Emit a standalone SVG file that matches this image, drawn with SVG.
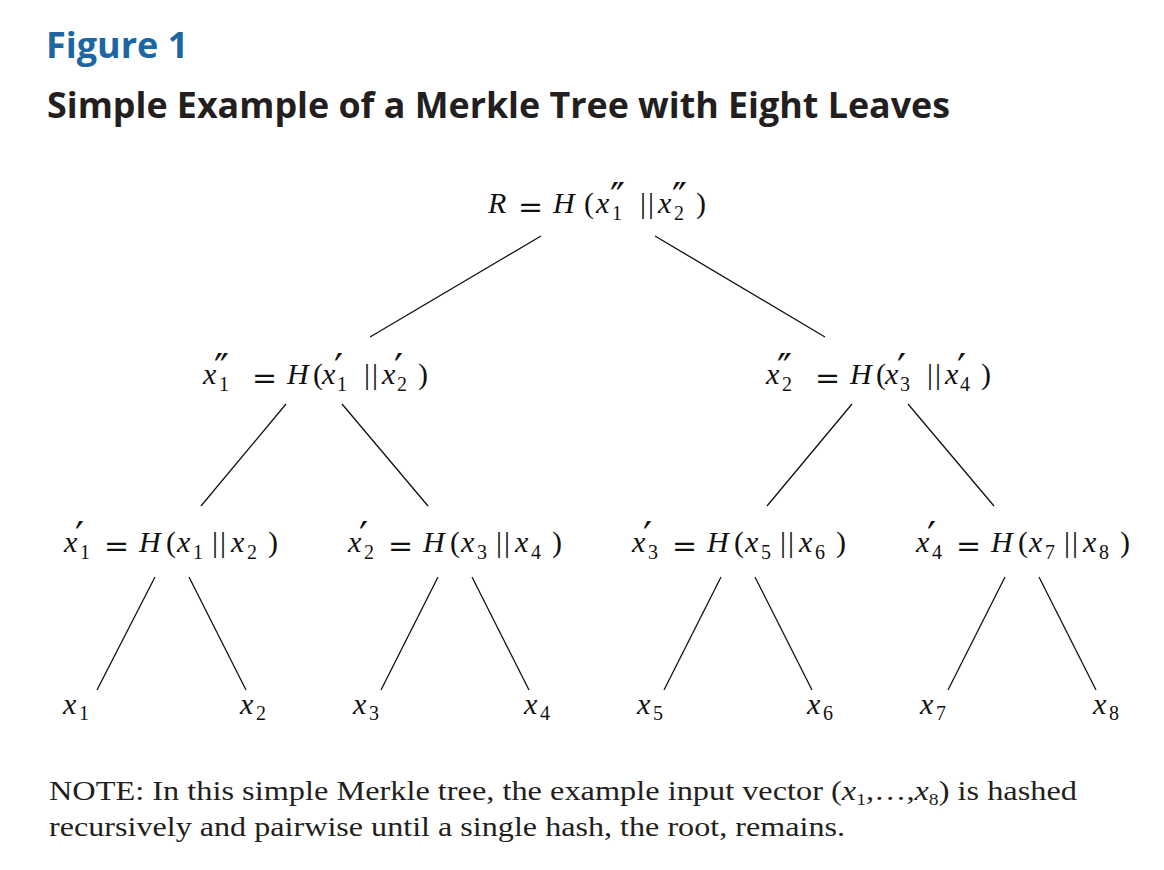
<svg xmlns="http://www.w3.org/2000/svg" width="1164" height="870" viewBox="0 0 1164 870">
<style>
.fig{font-family:"Open Sans","Noto Sans",sans-serif;font-weight:bold;font-size:36px;fill:#1b66a3}
.ttl{font-family:"Open Sans","Noto Sans",sans-serif;font-weight:bold;font-size:36px;fill:#231f20}
.note{font-family:"Liberation Serif",serif;font-size:28px;fill:#231f20}
.math{font-family:"Liberation Serif",serif;font-size:30px;fill:#111}
.i{font-style:italic}
.s{font-size:20px}
.p{font-family:"DejaVu Sans",sans-serif;font-size:40px}
.eq{font-family:"DejaVu Serif",serif;font-size:30px}
.edge{stroke:#111;stroke-width:1.3;fill:none}
</style>
<rect width="1164" height="870" fill="#fff"/>
<text class="fig" x="46" y="58">Figure 1</text>
<text class="ttl" x="47" y="118" textLength="903" lengthAdjust="spacingAndGlyphs">Simple Example of a Merkle Tree with Eight Leaves</text>

<g id="connectors">
<line class="edge" x1="541" y1="236" x2="370" y2="337"/>
<line class="edge" x1="655" y1="236" x2="825" y2="337"/>
<line class="edge" x1="286" y1="404" x2="201" y2="506"/>
<line class="edge" x1="342" y1="404" x2="428" y2="506"/>
<line class="edge" x1="852" y1="404" x2="767" y2="506"/>
<line class="edge" x1="908" y1="404" x2="994" y2="506"/>
<line class="edge" x1="155" y1="577" x2="97" y2="690"/>
<line class="edge" x1="189" y1="577" x2="246" y2="690"/>
<line class="edge" x1="438" y1="577" x2="381" y2="690"/>
<line class="edge" x1="472" y1="577" x2="529" y2="690"/>
<line class="edge" x1="721" y1="577" x2="664" y2="690"/>
<line class="edge" x1="755" y1="577" x2="812" y2="690"/>
<line class="edge" x1="1005" y1="577" x2="948" y2="690"/>
<line class="edge" x1="1039" y1="577" x2="1096" y2="690"/>
</g>

<g id="root">
<text class="math"><tspan class="i" x="488" y="213">R</tspan><tspan class="eq" x="518" y="217">=</tspan><tspan class="i" x="553" y="213">H</tspan><tspan x="584" y="213">(</tspan><tspan class="i" x="596" y="213">x</tspan><tspan class="p" x="610" y="212">″</tspan><tspan class="s" x="612" y="220">1</tspan><tspan x="640" y="213">|</tspan><tspan x="648" y="213">|</tspan><tspan class="i" x="658" y="213">x</tspan><tspan class="p" x="672" y="212">″</tspan><tspan class="s" x="674" y="220">2</tspan><tspan x="696" y="213">)</tspan></text>
</g>

<g id="n-x1pp">
<text class="math"><tspan class="i" x="203" y="384">x</tspan><tspan class="p" x="214" y="383">″</tspan><tspan class="s" x="219" y="391">1</tspan><tspan class="eq" x="252" y="388">=</tspan><tspan class="i" x="287" y="384">H</tspan><tspan x="313" y="384">(</tspan><tspan class="i" x="322" y="384">x</tspan><tspan class="p" x="334" y="383">′</tspan><tspan class="s" x="337" y="391">1</tspan><tspan x="364" y="384">|</tspan><tspan x="372" y="384">|</tspan><tspan class="i" x="382" y="384">x</tspan><tspan class="p" x="394" y="383">′</tspan><tspan class="s" x="397" y="391">2</tspan><tspan x="418" y="384">)</tspan></text>
</g>
<g id="n-x2pp">
<text class="math"><tspan class="i" x="766" y="384">x</tspan><tspan class="p" x="777" y="383">″</tspan><tspan class="s" x="782" y="391">2</tspan><tspan class="eq" x="815" y="388">=</tspan><tspan class="i" x="850" y="384">H</tspan><tspan x="876" y="384">(</tspan><tspan class="i" x="885" y="384">x</tspan><tspan class="p" x="897" y="383">′</tspan><tspan class="s" x="900" y="391">3</tspan><tspan x="927" y="384">|</tspan><tspan x="935" y="384">|</tspan><tspan class="i" x="945" y="384">x</tspan><tspan class="p" x="957" y="383">′</tspan><tspan class="s" x="960" y="391">4</tspan><tspan x="981" y="384">)</tspan></text>
</g>

<g id="n-x1p">
<text class="math"><tspan class="i" x="64" y="552">x</tspan><tspan class="p" x="75" y="551">′</tspan><tspan class="s" x="80" y="559">1</tspan><tspan class="eq" x="104" y="556">=</tspan><tspan class="i" x="139" y="552">H</tspan><tspan x="166" y="552">(</tspan><tspan class="i" x="177" y="552">x</tspan><tspan class="s" x="193" y="559">1</tspan><tspan x="212" y="552">|</tspan><tspan x="220" y="552">|</tspan><tspan class="i" x="231" y="552">x</tspan><tspan class="s" x="247" y="559">2</tspan><tspan x="268" y="552">)</tspan></text>
</g>
<g id="n-x2p">
<text class="math"><tspan class="i" x="348" y="552">x</tspan><tspan class="p" x="359" y="551">′</tspan><tspan class="s" x="364" y="559">2</tspan><tspan class="eq" x="388" y="556">=</tspan><tspan class="i" x="423" y="552">H</tspan><tspan x="450" y="552">(</tspan><tspan class="i" x="461" y="552">x</tspan><tspan class="s" x="477" y="559">3</tspan><tspan x="496" y="552">|</tspan><tspan x="504" y="552">|</tspan><tspan class="i" x="515" y="552">x</tspan><tspan class="s" x="531" y="559">4</tspan><tspan x="552" y="552">)</tspan></text>
</g>
<g id="n-x3p">
<text class="math"><tspan class="i" x="632" y="552">x</tspan><tspan class="p" x="643" y="551">′</tspan><tspan class="s" x="648" y="559">3</tspan><tspan class="eq" x="672" y="556">=</tspan><tspan class="i" x="707" y="552">H</tspan><tspan x="734" y="552">(</tspan><tspan class="i" x="745" y="552">x</tspan><tspan class="s" x="761" y="559">5</tspan><tspan x="780" y="552">|</tspan><tspan x="788" y="552">|</tspan><tspan class="i" x="799" y="552">x</tspan><tspan class="s" x="815" y="559">6</tspan><tspan x="836" y="552">)</tspan></text>
</g>
<g id="n-x4p">
<text class="math"><tspan class="i" x="916" y="552">x</tspan><tspan class="p" x="927" y="551">′</tspan><tspan class="s" x="932" y="559">4</tspan><tspan class="eq" x="956" y="556">=</tspan><tspan class="i" x="991" y="552">H</tspan><tspan x="1018" y="552">(</tspan><tspan class="i" x="1029" y="552">x</tspan><tspan class="s" x="1045" y="559">7</tspan><tspan x="1064" y="552">|</tspan><tspan x="1072" y="552">|</tspan><tspan class="i" x="1083" y="552">x</tspan><tspan class="s" x="1099" y="559">8</tspan><tspan x="1120" y="552">)</tspan></text>
</g>

<g id="leaf-x1"><text class="math"><tspan class="i" x="63" y="714">x</tspan><tspan class="s" x="79" y="720">1</tspan></text></g>
<g id="leaf-x2"><text class="math"><tspan class="i" x="240" y="714">x</tspan><tspan class="s" x="256" y="720">2</tspan></text></g>
<g id="leaf-x3"><text class="math"><tspan class="i" x="353" y="714">x</tspan><tspan class="s" x="369" y="720">3</tspan></text></g>
<g id="leaf-x4"><text class="math"><tspan class="i" x="524" y="714">x</tspan><tspan class="s" x="540" y="720">4</tspan></text></g>
<g id="leaf-x5"><text class="math"><tspan class="i" x="637" y="714">x</tspan><tspan class="s" x="653" y="720">5</tspan></text></g>
<g id="leaf-x6"><text class="math"><tspan class="i" x="807" y="714">x</tspan><tspan class="s" x="823" y="720">6</tspan></text></g>
<g id="leaf-x7"><text class="math"><tspan class="i" x="920" y="714">x</tspan><tspan class="s" x="936" y="720">7</tspan></text></g>
<g id="leaf-x8"><text class="math"><tspan class="i" x="1093" y="714">x</tspan><tspan class="s" x="1109" y="720">8</tspan></text></g>

<g id="note">
<text class="note" x="49" y="800" textLength="1028" lengthAdjust="spacingAndGlyphs">NOTE: In this simple Merkle tree, the example input vector (<tspan font-style="italic">x</tspan><tspan font-size="17" dy="5">1</tspan><tspan dy="-5">,…,</tspan><tspan font-style="italic">x</tspan><tspan font-size="17" dy="5">8</tspan><tspan dy="-5">) is hashed</tspan></text>
<text class="note" x="49" y="836" textLength="796" lengthAdjust="spacingAndGlyphs">recursively and pairwise until a single hash, the root, remains.</text>
</g>
</svg>
